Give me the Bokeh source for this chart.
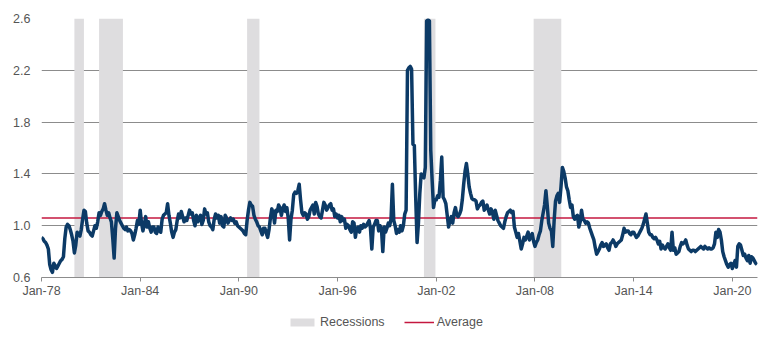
from bokeh.plotting import figure
from bokeh.layouts import column
from bokeh.models import FixedTicker, Legend, LegendItem, Range1d, PrintfTickFormatter
from bokeh.embed import file_html
from bokeh.resources import INLINE

# Monthly values, Jan of each year first
y1978 = [0.91, 0.90, 0.88, 0.87, 0.85, 0.82, 0.70, 0.66, 0.64, 0.71, 0.69, 0.67]
y1979 = [0.69, 0.71, 0.73, 0.74, 0.76, 0.90, 0.99, 1.01, 1.00, 0.97, 0.93, 0.88]
y1980 = [0.79, 0.85, 0.95, 0.93, 0.92, 0.97, 1.05, 1.12, 1.11, 1.02, 0.96, 0.95]
y1981 = [0.93, 0.92, 0.96, 1.00, 0.98, 1.03, 1.10, 1.08, 1.11, 1.13, 1.17, 1.12]
y1982 = [1.08, 1.10, 1.06, 1.03, 0.90, 0.75, 0.98, 1.10, 1.07, 1.04, 1.02, 1.00]
y1983 = [0.98, 0.97, 0.99, 0.96, 0.97, 0.96, 0.94, 0.89, 0.93, 0.98, 1.04, 1.01]
y1984 = [1.12, 1.02, 0.96, 1.01, 1.07, 0.99, 1.03, 0.98, 0.95, 0.99, 0.99, 0.95]
y1985 = [0.94, 0.99, 0.96, 0.95, 1.05, 1.08, 1.09, 1.10, 1.17, 1.08, 1.02, 0.95]
y1986 = [0.91, 0.95, 0.97, 1.04, 1.09, 1.06, 1.11, 1.07, 1.03, 1.06, 1.04, 1.08]
y1987 = [1.12, 1.09, 1.10, 1.04, 1.00, 1.08, 1.03, 1.06, 1.08, 1.01, 1.04, 1.13]
y1988 = [1.09, 1.10, 1.03, 1.00, 0.99, 0.97, 1.05, 1.09, 1.06, 1.08, 1.02, 1.07]
y1989 = [1.00, 0.99, 1.08, 1.06, 1.02, 1.04, 1.06, 1.04, 1.05, 1.02, 1.03, 1.00]
y1990 = [0.99, 0.98, 0.97, 0.96, 0.94, 0.93, 1.04, 1.12, 1.18, 1.16, 1.15, 1.08]
y1991 = [1.05, 1.03, 1.00, 0.99, 0.96, 0.93, 0.98, 0.98, 0.94, 0.91, 0.97, 1.06]
y1992 = [1.13, 1.10, 1.02, 1.12, 1.11, 1.16, 1.14, 1.08, 1.13, 1.16, 1.11, 1.14]
y1993 = [1.06, 0.89, 1.05, 1.12, 1.24, 1.26, 1.25, 1.27, 1.32, 1.20, 1.10, 1.08]
y1994 = [1.10, 1.09, 1.05, 1.07, 1.12, 1.14, 1.16, 1.09, 1.18, 1.15, 1.09, 1.07]
y1995 = [1.06, 1.12, 1.18, 1.16, 1.12, 1.14, 1.16, 1.17, 1.12, 1.13, 1.07, 1.09]
y1996 = [1.06, 1.08, 1.03, 1.07, 1.04, 1.05, 0.98, 1.01, 1.00, 0.97, 0.95, 1.03]
y1997 = [1.02, 0.91, 0.98, 0.99, 0.95, 1.00, 0.98, 1.01, 0.99, 1.00, 1.02, 1.04]
y1998 = [0.98, 0.82, 0.99, 1.01, 1.04, 1.04, 0.96, 1.00, 0.98, 0.80, 0.99, 0.95]
y1999 = [0.98, 1.02, 1.00, 1.05, 1.32, 1.04, 1.00, 0.94, 0.97, 0.95, 1.00, 0.96]
y2000 = [1.00, 1.09, 1.12, 2.20, 2.22, 2.23, 2.21, 1.63, 1.62, 1.22, 0.87, 1.02]
y2001 = [1.25, 1.40, 1.38, 1.37, 1.45, 2.58, 2.59, 2.58, 1.58, 1.35, 1.14, 1.20]
y2002 = [1.20, 1.23, 1.22, 1.35, 1.53, 1.22, 1.20, 1.17, 1.08, 0.99, 1.04, 1.07]
y2003 = [1.02, 1.10, 1.14, 1.08, 1.07, 1.09, 1.12, 1.20, 1.32, 1.42, 1.48, 1.40]
y2004 = [1.30, 1.25, 1.21, 1.20, 1.20, 1.19, 1.13, 1.15, 1.16, 1.18, 1.19, 1.12]
y2005 = [1.14, 1.16, 1.12, 1.09, 1.13, 1.10, 1.05, 1.12, 1.08, 1.04, 1.02, 1.00]
y2006 = [0.99, 0.98, 1.03, 1.07, 1.10, 1.11, 1.12, 1.10, 1.11, 0.99, 0.95, 0.91]
y2007 = [0.94, 0.88, 0.82, 0.86, 0.91, 0.89, 0.92, 0.95, 0.89, 0.92, 0.94, 0.88]
y2008 = [0.84, 0.87, 0.89, 0.93, 0.96, 1.04, 1.10, 1.16, 1.27, 1.15, 1.02, 0.98]
y2009 = [0.96, 0.84, 1.04, 1.19, 1.23, 1.25, 1.18, 1.30, 1.45, 1.42, 1.37, 1.30]
y2010 = [1.27, 1.20, 1.14, 1.16, 1.07, 1.05, 1.07, 1.08, 0.99, 1.03, 1.12, 1.05]
y2011 = [1.04, 1.02, 1.03, 1.02, 0.98, 0.95, 0.92, 0.89, 0.83, 0.78, 0.80, 0.82]
y2012 = [0.85, 0.87, 0.84, 0.85, 0.86, 0.83, 0.81, 0.86, 0.87, 0.89, 0.87, 0.84]
y2013 = [0.86, 0.87, 0.88, 0.89, 0.93, 0.98, 0.95, 0.96, 0.96, 0.94, 0.93, 0.95]
y2014 = [0.95, 0.93, 0.91, 0.92, 0.94, 0.96, 0.98, 1.01, 1.05, 1.09, 1.02, 0.95]
y2015 = [0.93, 0.93, 0.91, 0.90, 0.91, 0.89, 0.86, 0.88, 0.82, 0.85, 0.83, 0.82]
y2016 = [0.84, 0.86, 0.83, 0.81, 0.95, 0.81, 0.83, 0.78, 0.79, 0.80, 0.84, 0.87]
y2017 = [0.86, 0.87, 0.89, 0.85, 0.82, 0.81, 0.80, 0.81, 0.81, 0.80, 0.81, 0.82]
y2018 = [0.83, 0.84, 0.83, 0.82, 0.84, 0.83, 0.82, 0.83, 0.82, 0.82, 0.83, 0.86]
y2019 = [0.95, 0.91, 0.97, 0.95, 0.89, 0.80, 0.76, 0.73, 0.70, 0.68, 0.70, 0.71]
y2020 = [0.67, 0.70, 0.73, 0.68, 0.84, 0.86, 0.85, 0.81, 0.77, 0.78, 0.75, 0.73]
y2021 = [0.77, 0.71, 0.76, 0.75, 0.73, 0.71, 0.70]

values = (y1978 + y1979 + y1980 + y1981 + y1982 + y1983 + y1984 + y1985 + y1986 + y1987
          + y1988 + y1989 + y1990 + y1991 + y1992 + y1993 + y1994 + y1995 + y1996 + y1997
          + y1998 + y1999 + y2000 + y2001 + y2002 + y2003 + y2004 + y2005 + y2006 + y2007
          + y2008 + y2009 + y2010 + y2011 + y2012 + y2013 + y2014 + y2015 + y2016 + y2017
          + y2018 + y2019 + y2020 + y2021)
start_year = 1978
dates = [start_year + i / 12.0 for i in range(len(values))]

average_value = 1.06

rec_start = [1980.0, 1981.5, 1990.5, 2001.25, 2007.92]
rec_end = [1980.58, 1982.95, 1991.25, 2001.95, 2009.6]

tick_years = [1978, 1984, 1990, 1996, 2002, 2008, 2014, 2020]
tick_labels = ["Jan-78", "Jan-84", "Jan-90", "Jan-96", "Jan-02", "Jan-08", "Jan-14", "Jan-20"]
y_ticks = [0.6, 1.0, 1.4, 1.8, 2.2, 2.6]

x_min, x_max = 1978.0, 2021.53
y_min, y_max = 0.6, 2.6

FONT = "Liberation Sans"
TXT = "#555555"
GRID = "#8c8c8c"
REC_COLOR = "#dedddf"
AVG_COLOR = "#c4173f"
SER_COLOR = "#0c3a66"

p = figure(width=770, height=300, min_border_left=41, min_border_right=13,
           min_border_top=18, min_border_bottom=23,
           x_range=Range1d(x_min, x_max), y_range=Range1d(y_min, y_max),
           output_backend="svg", toolbar_location=None)
p.outline_line_color = None
p.background_fill_color = "white"
p.border_fill_color = "white"
p.xgrid.visible = False
p.ygrid.ticker = FixedTicker(ticks=y_ticks)
p.ygrid.grid_line_color = GRID
p.ygrid.grid_line_width = 1

p.yaxis.axis_label = None
p.yaxis.ticker = FixedTicker(ticks=y_ticks)
p.yaxis.formatter = PrintfTickFormatter(format="%.1f")
p.yaxis.axis_line_color = None
p.yaxis.major_tick_line_color = None
p.yaxis.minor_tick_line_color = None
p.yaxis.major_label_standoff = 5
p.yaxis.major_label_text_font = FONT
p.yaxis.major_label_text_font_size = "12.5px"
p.yaxis.major_label_text_color = TXT

p.xaxis.axis_label = None
p.xaxis.ticker = FixedTicker(ticks=tick_years)
p.xaxis.major_label_overrides = {t: l for t, l in zip(tick_years, tick_labels)}
p.xaxis.axis_line_color = GRID
p.xaxis.major_tick_line_color = GRID
p.xaxis.major_tick_out = 4
p.xaxis.major_tick_in = 0
p.xaxis.minor_tick_line_color = None
p.xaxis.major_label_standoff = 2
p.xaxis.major_label_text_font = FONT
p.xaxis.major_label_text_font_size = "12.5px"
p.xaxis.major_label_text_color = TXT

p.quad(left=rec_start, right=rec_end, bottom=y_min, top=y_max,
       fill_color=REC_COLOR, line_color=None)
p.line(x=[x_min, x_max], y=[average_value, average_value],
       line_color=AVG_COLOR, line_width=1.5)
p.line(x=dates, y=values, line_color=SER_COLOR, line_width=3.5, line_join="round")

# Legend strip below the chart (its ranges keep the key glyphs' data out of view)
q = figure(width=770, height=37, min_border=0, x_range=Range1d(0, 1), y_range=Range1d(0, 1),
           x_axis_location=None, y_axis_location=None,
           output_backend="svg", toolbar_location=None)
q.outline_line_color = None
q.grid.visible = False
q.border_fill_color = "white"
q.background_fill_color = "white"
lr_rec = q.quad(left=rec_start, right=rec_end, bottom=y_min, top=y_max,
                fill_color=REC_COLOR, line_color=None)
lr_avg = q.line(x=[x_min, x_max], y=[average_value, average_value],
                line_color=AVG_COLOR, line_width=1.5)

legend = Legend(items=[LegendItem(label="Recessions", renderers=[lr_rec]),
                       LegendItem(label="Average", renderers=[lr_avg])],
                orientation="horizontal", location=(246, 8))
legend.border_line_color = None
legend.background_fill_alpha = 0
legend.label_text_font = FONT
legend.label_text_font_size = "12.5px"
legend.label_text_color = TXT
legend.glyph_width = 30
legend.glyph_height = 10
legend.label_height = 14
legend.label_standoff = 3
legend.spacing = 19
legend.padding = 4
legend.margin = 0
q.add_layout(legend, "center")

layout = column(p, q, spacing=0)
open("out.html", "w").write(file_html(layout, INLINE))
